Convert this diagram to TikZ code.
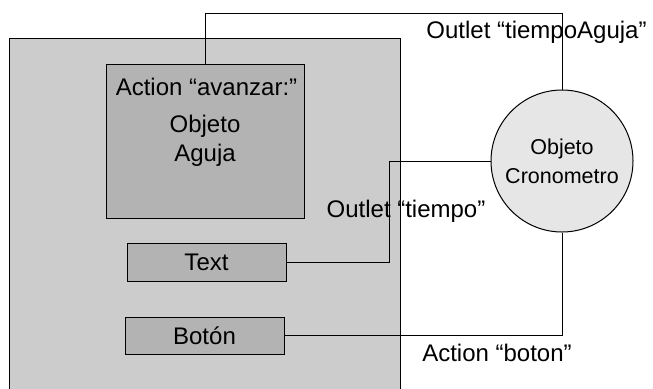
\documentclass[tikz,border=0pt]{standalone}
\usepackage{fontspec}
\setmainfont{Liberation Sans}
\usetikzlibrary{positioning}
\definecolor{ventanagris}{RGB}{204,204,204}
\definecolor{objgris}{RGB}{179,179,179}
\definecolor{cronogris}{RGB}{230,230,230}

\begin{document}
\begin{tikzpicture}[x=5pt, y=5pt, line width=0.5pt,
    every node/.style={font=\fontsize{12}{14.5}\selectfont},
    ventana/.style={draw, fill=ventanagris, minimum width=195.5pt, minimum height=180pt},
    objeto/.style={draw, fill=objgris, align=center, inner sep=0pt},
    crono/.style={draw, circle, fill=cronogris, align=center, inner sep=0pt,
      minimum size=71pt, font=\fontsize{10.75}{14.5}\selectfont}]
  \useasboundingbox (0,0) rectangle (65.3,38.8);
  \clip (0,0) rectangle (65.3,38.8);
  % ventana de la aplicacion
  \node[ventana] (ventana) at (20.45,17.0) {};
  % objetos dentro de la ventana
  \node[objeto, minimum width=99pt, minimum height=77pt] (aguja) at (20.5,24.7) {Objeto\\Aguja};
  \node (lblavanzar) at (20.65,30.1) {Action “avanzar:”};
  \node[objeto, minimum width=79.5pt, minimum height=19pt] (texto) at (20.65,12.6) {Text};
  \node[objeto, minimum width=79.5pt, minimum height=18.5pt] (boton) at (20.45,5.25) {Botón};
  % objeto cronometro
  \node[crono] (crono) at (56.2,22.7) {Objeto\\Cronometro};
  % conexiones
  \draw (aguja.north) -- ++(0,5) -| (crono.north);
  \draw (crono.west) -- ++(-10.1,0) |- (texto.east);
  \draw (crono.south) |- (boton.east);
  \node (lbltiempoaguja) at (53.65,35.6) {Outlet “tiempoAguja”};
  \node (lbltiempo) at (40.6,17.7) {Outlet “tiempo”};
  \node (lblboton) at (49.7,3.5) {Action “boton”};
\end{tikzpicture}
\end{document}
